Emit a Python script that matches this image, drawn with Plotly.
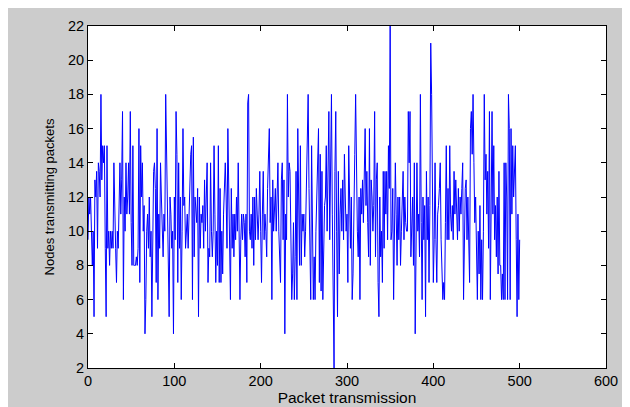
import plotly.graph_objects as go

seg_a = [9.5, 12, 11, 12, 10, 8, 10, 5, 13, 12, 13.5, 9, 14, 13.5, 12, 18, 13, 15, 14, 15,
         9, 5, 15, 9, 10, 8, 10, 9, 10, 9, 14, 10, 9, 7, 10, 9, 12, 14, 11, 13,
         17, 6, 12, 10, 14, 11, 12, 14, 11, 17, 10.5, 8, 15, 8, 8, 8, 8.5, 8, 9, 16,
         7, 15, 12, 14]
seg_b = [10, 11.5, 4, 6, 10, 11, 9, 12, 8.5, 10, 5, 11, 13.5, 14, 12.5, 7, 16, 6, 11, 9,
         14, 12, 10, 8.5, 11, 10, 18, 15, 10, 8.5, 5, 12, 11, 9, 10, 4, 12, 9.5, 17, 14.5,
         7, 14, 9, 12, 6, 10, 16, 11.5, 12, 9, 10.5, 11, 9, 11.5, 13.5, 14.5, 15, 6, 15.5, 8.5,
         12, 11, 10.5, 12.5]
seg_c = [5, 12, 9, 11, 10.5, 11.5, 9, 13, 10, 12, 14, 7, 9, 8.5, 14, 10, 8.5, 10, 15, 11,
         7, 10, 8, 15, 7, 12.5, 7, 10, 7.5, 11, 13.5, 14, 12, 9, 16, 12.5, 10, 6, 12.5, 9,
         11, 8.5, 11, 9.5, 12, 10, 14, 9, 6, 9.5, 11, 9.5, 11, 10.5, 8.5, 11, 7, 17.5, 18, 10,
         9.5, 11, 9, 12]
seg_d = [8, 12, 9.5, 12.5, 11, 9.5, 11, 13.5, 10, 7, 11, 13.5, 9.5, 11, 10, 8.5, 12.5, 15, 16, 10.5,
         12, 6, 13, 10, 12, 12.5, 10, 13.5, 14, 10, 8.5, 7, 13, 14, 9.5, 13, 4, 11, 9.5, 18,
         12, 14, 13.5, 9.5, 6, 7.5, 10.5, 6, 8.5, 13.5, 6, 16, 10.5, 8, 15, 8, 11, 10, 11, 8.5,
         10, 13, 15, 18]
seg_e = [12.5, 8, 6, 15, 10, 6, 8.5, 6, 10, 12, 13.5, 16, 7, 14.5, 6.5, 13.5, 6, 10.5, 11.5, 12,
         15, 10, 12.5, 17, 9.5, 14.5, 18, 11, 4, 2, 13.5, 17, 10, 5, 13.5, 7.5, 11, 12.5, 10, 13,
         9.5, 14.5, 12, 10, 11, 7, 15, 11, 9, 12, 6, 7.5, 10, 14.5, 18, 12, 10, 8.5, 12, 6,
         12.5, 11, 13, 10.5]
seg_f = [14, 16, 11.5, 13.5, 10.5, 8.5, 16, 8, 13, 12, 10, 11.5, 17, 8.5, 13, 14, 7, 5, 12, 8.5,
         10, 7, 13.5, 9, 13.5, 11, 13.5, 9.5, 15, 12.5, 22, 9.5, 10, 12.5, 6, 12.5, 14, 11, 8, 12,
         9.5, 12, 8, 10, 12.5, 13.5, 9.5, 12, 10.5, 10, 10, 17, 14, 17, 8.5, 10, 12, 8, 14, 4,
         9.5, 14, 10, 11]
seg_g = [8.5, 18, 10.5, 6, 12, 9.5, 11.5, 5, 13.5, 9.5, 12, 7, 11.5, 21, 18, 11, 7, 9.5, 14, 9.5,
         7, 11, 11.5, 12.5, 14, 9.5, 8, 6, 7, 6, 10.5, 15, 9.5, 12.5, 9.5, 15, 11, 10, 11.5, 9.5,
         13.5, 11, 13, 10.5, 9.5, 12.5, 10, 12, 11, 12.5, 14, 6, 11.5, 12.5, 13, 9.5, 12, 9.5, 7, 16,
         17, 14.5, 18, 14]
seg_h = [10.5, 12, 9.5, 6, 10, 7.5, 11.5, 6, 9.5, 6, 10, 18, 13, 14.5, 11, 13.5, 9, 17, 6, 12,
         17, 11, 15, 9.5, 11.5, 8.5, 12, 7.5, 13.5, 8, 8, 6, 7.5, 6, 14, 6, 14, 12, 6, 18,
         16, 6, 16, 11, 15, 12, 14, 15, 9.5, 5, 11, 6, 9.5]

nodes = seg_a + seg_b + seg_c + seg_d + seg_e + seg_f + seg_g + seg_h
packets = list(range(len(nodes)))

x_ticks = [0, 100, 200, 300, 400, 500, 600]
y_ticks = [2, 4, 6, 8, 10, 12, 14, 16, 18, 20, 22]

fig = go.Figure(go.Scatter(x=packets, y=nodes, mode="lines",
                           line=dict(color="#0000ff", width=1)))

font = dict(family="Liberation Sans, Arial, sans-serif", size=14.5, color="#000000")
fig.update_layout(
    width=630, height=407,
    margin=dict(l=80, r=32, t=18, b=47),
    paper_bgcolor="#cccccc", plot_bgcolor="#ffffff",
    font=font, showlegend=False,
    xaxis=dict(range=[0, 600], tickvals=x_ticks, ticks="inside", ticklen=5,
               tickcolor="#000000", showline=True, linecolor="#000000", linewidth=1,
               mirror="ticks", showgrid=False, zeroline=False, automargin=False,
               title=dict(text="Packet transmission", standoff=1, font=dict(size=15.5))),
    yaxis=dict(range=[2, 22], tickvals=y_ticks, ticks="inside", ticklen=5,
               tickcolor="#000000", showline=True, linecolor="#000000", linewidth=1,
               mirror="ticks", showgrid=False, zeroline=False, automargin=False,
               title=dict(text="Nodes transmitting packets", standoff=10, font=dict(size=13))),
)
fig.write_html("out.html")
